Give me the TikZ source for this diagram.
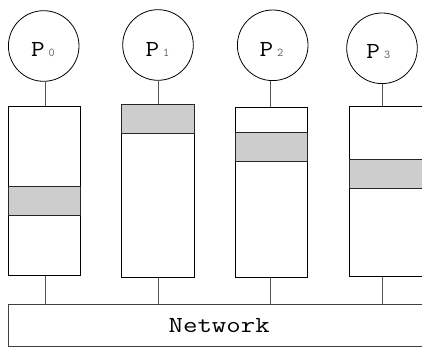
\documentclass[tikz,border=0pt]{standalone}
\usepackage{fontspec}
\definecolor{bandgray}{HTML}{CDCDCD}
\definecolor{subgray}{HTML}{5A5A5A}
\definecolor{wiregray}{HTML}{555555}
\newcommand{\procname}[1]{\scalebox{1.15}[1]{\fontsize{23}{23}\ttfamily P}\hspace{4pt}{\fontsize{12}{12}\ttfamily\color{subgray}#1}}
\begin{document}
\begin{tikzpicture}[x=1pt,y=-1pt,
  proc/.style={draw=black, line width=0.8pt, circle, minimum size=70.6pt, inner sep=0pt},
  mem/.style={draw=black, line width=0.9pt, fill=white, inner sep=0pt, minimum width=72.5pt},
  band/.style={draw=black!85, line width=0.9pt, fill=bandgray, inner sep=0pt, minimum width=72.5pt, minimum height=29pt},
  wire/.style={draw=wiregray, line width=1pt},
  net/.style={draw=black!75, line width=0.9pt, fill=white, inner sep=0pt, minimum width=421.7pt, minimum height=41.7pt}]
\useasboundingbox (0,0) rectangle (422,347);
\clip (0,0) rectangle (422,347);

% processors
\node[proc] (c0) at (43.7,46) {};
\node[proc] (c1) at (158,45) {};
\node[proc] (c2) at (272.7,45.3) {};
\node[proc] (c3) at (382,48.3) {};
\node[anchor=base] (l0) at (43,56.7) {\procname{0}};
\node[anchor=base] (l1) at (157.5,56.7) {\procname{1}};
\node[anchor=base] (l2) at (271.5,56.7) {\procname{2}};
\node[anchor=base] (l3) at (378.3,59) {\procname{3}};

% memories with their active band
\node[mem, minimum height=169.7pt] (b0) at (44.5,190.85) {};
\node[mem, minimum height=173.7pt] (b1) at (158,190.85) {};
\node[mem, minimum height=170.4pt] (b2) at (271.35,192.5) {};
\node[mem, minimum height=170.4pt] (b3) at (386,191.5) {};
\node[band] (g0) at (44.5,201.2) {};
\node[band] (g1) at (158,118.5) {};
\node[band] (g2) at (271.35,146.5) {};
\node[band] (g3) at (386,173.8) {};

% network
\node[net] (net) at (219.15,325.15) {};
\node[anchor=base] (nettext) at (219.2,332.7) {\scalebox{1.22}[1]{\fontsize{23}{23}\ttfamily Network}};

% taps
\coordinate (t0) at (45.7,0);
\coordinate (t1) at (158,0);
\coordinate (t2) at (270,0);
\coordinate (t3) at (382.3,0);
\foreach \i in {0,1,2,3}{
  \draw[wire] (c\i.south -| t\i) -- (b\i.north -| t\i);
  \draw[wire] (b\i.south -| t\i) -- (net.north -| t\i);
}
\end{tikzpicture}
\end{document}
